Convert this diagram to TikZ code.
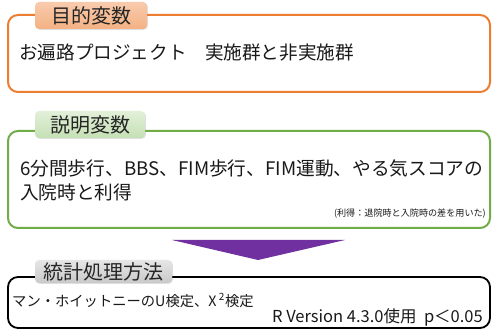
\documentclass[tikz,border=0pt]{standalone}
\usepackage{fontspec}
\setmainfont{Noto Sans CJK JP}
\usetikzlibrary{shadows}
\definecolor{orng}{HTML}{ED7D31}
\definecolor{grn}{HTML}{70AD47}
\definecolor{purp}{HTML}{7030A0}
\definecolor{lorA}{HTML}{F8CBAD}
\definecolor{lorB}{HTML}{F4B183}
\definecolor{lgrA}{HTML}{E2F0D9}
\definecolor{lgrB}{HTML}{C5E0B4}
\definecolor{lgyA}{HTML}{E7E6E6}
\definecolor{lgyB}{HTML}{C9C9C9}
\tikzset{
  frame/.style={draw, rounded corners=10pt, line width=2pt, minimum width=482pt, inner sep=0pt},
  tag/.style={rounded corners=4pt, inner sep=0pt, font=\fontsize{20}{22}\selectfont, text=black!85, drop shadow={shadow xshift=0.8pt, shadow yshift=-0.8pt, opacity=0.25}},
  body/.style={inner sep=0pt, font=\fontsize{18.7}{22}\selectfont, text=black!90},
  small/.style={inner sep=0pt, font=\fontsize{9.1}{11}\selectfont, text=black!90},
  mid/.style={inner sep=0pt, font=\fontsize{14.3}{17}\selectfont, text=black!90}
}
\begin{document}
\begin{tikzpicture}[x=1pt,y=-1pt]
\useasboundingbox[fill=white] (0,0) rectangle (493,331);
% box 1
\node[frame, draw=orng, minimum height=77pt] (b1) at (249,53.5) {};
\node[tag, top color=lorA, bottom color=lorB, minimum width=112pt, minimum height=27pt] (l1) at (91,15.5) {目的変数};
\node[body, anchor=west, font=\fontsize{18.6}{22}\selectfont] (t1) at (19,53) {お遍路プロジェクト　実施群と非実施群};
% box 2
\node[frame, draw=grn, minimum height=97pt] (b2) at (249,179.5) {};
\node[tag, top color=lgrA, bottom color=lgrB, minimum width=110pt, minimum height=27pt] (l2) at (90,124.5) {説明変数};
\node[body, anchor=west] (t2) at (20,168) {6分間歩行、BBS、FIM歩行、FIM運動、やる気スコアの};
\node[body, anchor=west] (t3) at (20,192) {入院時と利得};
\node[small, anchor=east] (t4) at (486,214) {(利得：退院時と入院時の差を用いた)};
% arrow
\coordinate (a1) at (172,240);
\coordinate (a2) at (345,240);
\coordinate (a3) at (258,260);
\fill[purp] (a1) -- (a2) -- (a3) -- cycle;
% box 3
\node[frame, draw=black, line width=1.8pt, minimum height=51pt] (b3) at (249,302.5) {};
\node[tag, top color=lgyA, bottom color=lgyB, minimum width=137pt, minimum height=23pt] (l3) at (103.5,271.5) {統計処理方法};
\node[mid, anchor=west] (t5) at (12,300.5) {マン・ホイットニーのU検定、X\,\textsuperscript{2}検定};
\node[mid, anchor=east, font=\fontsize{16.5}{18}\selectfont] (t6) at (483,317) {R Version 4.3.0使用\ \ p＜0.05};
\end{tikzpicture}
\end{document}
